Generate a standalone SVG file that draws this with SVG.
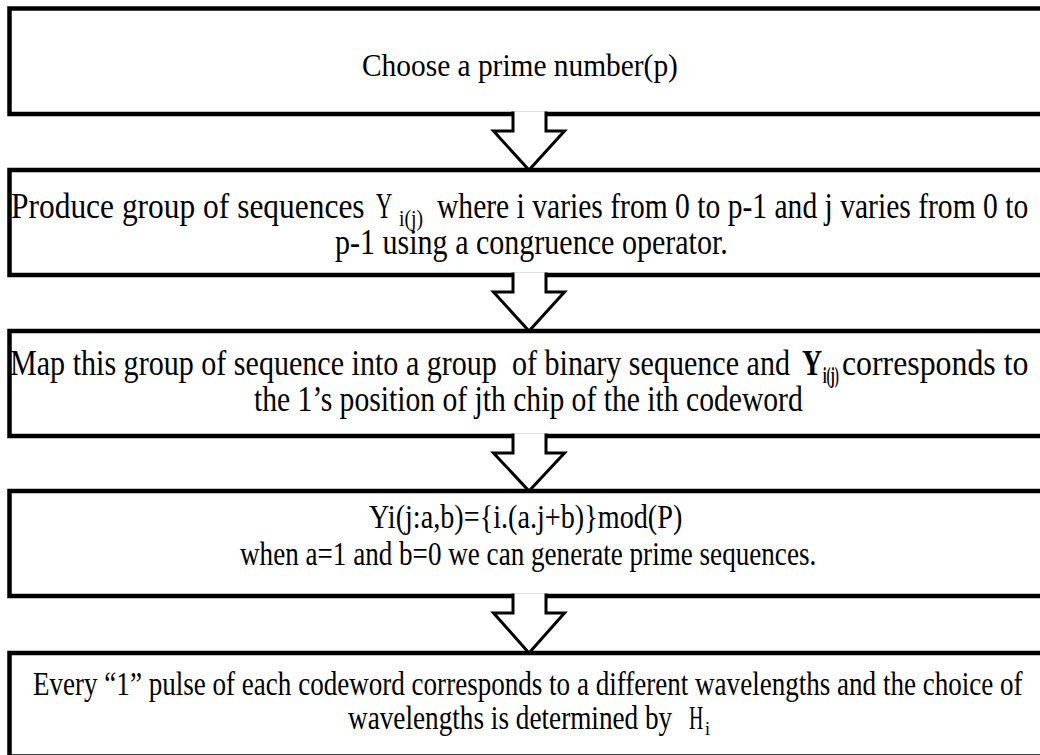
<svg xmlns="http://www.w3.org/2000/svg" width="1040" height="755" viewBox="0 0 1040 755">
<style>
.box{fill:#fff;stroke:#000;stroke-width:4.5}
.arr{fill:#fff;stroke:#000;stroke-width:3;stroke-linejoin:miter}
.t{font-family:"Liberation Serif","Times New Roman",serif;fill:#000;white-space:pre}
.big{font-size:36px}
.mid{font-size:33px}
.sm{font-size:32px}
.sub{font-size:23px}
.b{font-weight:bold}
</style>
<rect width="1040" height="755" fill="#fff"/>
<g id="node1">
<rect class="box" x="9.5" y="8.5" width="1045" height="105.5"/>
<text class="t sm" transform="translate(362,76) scale(0.9,1)" textLength="351" lengthAdjust="spacingAndGlyphs">Choose a prime number(p)</text>
</g>
<g id="node2">
<rect class="box" x="9.5" y="170" width="1045" height="105"/>
<text class="t big" transform="translate(11,218) scale(0.8,1)" textLength="442" lengthAdjust="spacingAndGlyphs">Produce group of sequences</text>
<text class="t big" transform="translate(376,218) scale(0.65,1)" textLength="25" lengthAdjust="spacingAndGlyphs">Y</text>
<text class="t sub" transform="translate(399,226) scale(0.8,1)" textLength="30" lengthAdjust="spacingAndGlyphs">i(j)</text>
<text class="t big" transform="translate(437,218) scale(0.8,1)" textLength="739" lengthAdjust="spacingAndGlyphs">where i varies from 0 to p-1 and j varies from 0 to</text>
<text class="t big" transform="translate(335,254) scale(0.8,1)" textLength="491" lengthAdjust="spacingAndGlyphs">p-1 using a congruence operator.</text>
</g>
<g id="node3">
<rect class="box" x="9.5" y="331" width="1045" height="105"/>
<text class="t big" transform="translate(10,375) scale(0.8,1)" textLength="975" lengthAdjust="spacingAndGlyphs">Map this group of sequence into a group  of binary sequence and</text>
<text class="t big b" transform="translate(802,375) scale(0.72,1)" textLength="28" lengthAdjust="spacingAndGlyphs">Y</text>
<text class="t sub b" transform="translate(823,383) scale(0.66,1)" textLength="24" lengthAdjust="spacingAndGlyphs">i(j)</text>
<text class="t big" transform="translate(842,375) scale(0.8,1)" textLength="233" lengthAdjust="spacingAndGlyphs">corresponds to</text>
<text class="t big" transform="translate(254,411) scale(0.8,1)" textLength="686" lengthAdjust="spacingAndGlyphs">the 1’s position of jth chip of the ith codeword</text>
</g>
<g id="node4">
<rect class="box" x="9.5" y="491" width="1045" height="105"/>
<text class="t mid" transform="translate(369,528) scale(0.84,1)" textLength="373" lengthAdjust="spacingAndGlyphs">Yi(j:a,b)={i.(a.j+b)}mod(P)</text>
<text class="t mid" transform="translate(240,565) scale(0.84,1)" textLength="686" lengthAdjust="spacingAndGlyphs">when a=1 and b=0 we can generate prime sequences.</text>
</g>
<g id="node5">
<rect class="box" x="9.5" y="653" width="1045" height="103.5"/>
<text class="t mid" transform="translate(33,695) scale(0.8,1)" textLength="1237" lengthAdjust="spacingAndGlyphs">Every “1” pulse of each codeword corresponds to a different wavelengths and the choice of</text>
<text class="t mid" transform="translate(348,729) scale(0.84,1)" textLength="386" lengthAdjust="spacingAndGlyphs">wavelengths is determined by</text>
<text class="t mid" transform="translate(689,729) scale(0.68,1)" textLength="21" lengthAdjust="spacingAndGlyphs">H</text>
<text class="t" font-size="19" transform="translate(705,735) scale(0.84,1)" textLength="6" lengthAdjust="spacingAndGlyphs">i</text>
</g>
<g id="connectors">
<path class="arr" d="M513,111.5 V131 H493.5 L529,170 L564.5,131 H546 V111.5"/>
<path class="arr" d="M513,272.5 V292 H493.5 L529,331 L564.5,292 H546 V272.5"/>
<path class="arr" d="M513,433.5 V453 H493.5 L529,491 L564.5,453 H546 V433.5"/>
<path class="arr" d="M513,593.5 V613 H493.5 L529,653 L564.5,613 H546 V593.5"/>
</g>
</svg>
